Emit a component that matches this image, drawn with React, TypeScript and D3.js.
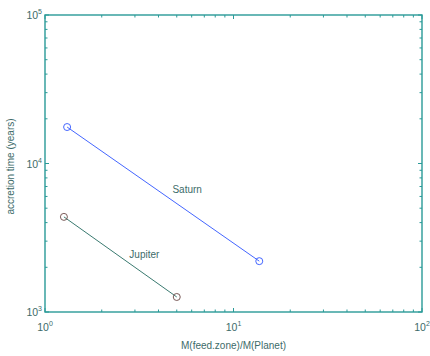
import React from "react";
import * as d3 from "d3";

const saturnX = [1.31, 13.7];
const saturnY = [17600, 2200];
const jupiterX = [1.26, 5.0];
const jupiterY = [4370, 1262];
const xDecades = [0, 1, 2];
const yDecades = [3, 4, 5];
const seriesNames = ["Saturn", "Jupiter"];

const W = 430, H = 356;
const L = 45, R = 422, T = 15, B = 312;
const axisColor = "#2a9a98";
const textColor = "#3d6b69";
const font = "Liberation Sans, Arial, sans-serif";

export default function App() {
  const x = d3.scaleLog().domain([1, 100]).range([L, R]);
  const y = d3.scaleLog().domain([1000, 100000]).range([B, T]);
  const line = d3.line<[number, number]>().x(d => x(d[0])).y(d => y(d[1]));
  const sat: [number, number][] = saturnX.map((v, i) => [v, saturnY[i]]);
  const jup: [number, number][] = jupiterX.map((v, i) => [v, jupiterY[i]]);

  const xMinor: number[] = [];
  for (let d = 0; d < 2; d++) for (let k = 2; k <= 9; k++) xMinor.push(k * Math.pow(10, d));
  const yMinor: number[] = [];
  for (let d = 3; d < 5; d++) for (let k = 2; k <= 9; k++) yMinor.push(k * Math.pow(10, d));

  const tk = 4, tkMinor = 2.5;
  return (
    <svg width={W} height={H} style={{ position: "absolute", left: 0, top: 0 }}>
      <rect width={W} height={H} fill="white" />
      <rect x={L} y={T} width={R - L} height={B - T} fill="none" stroke={axisColor} strokeWidth={1.4} />
      {xMinor.map((v, i) => (
        <g key={"xm" + i} stroke={axisColor} strokeWidth={1}>
          <line x1={x(v)} x2={x(v)} y1={B} y2={B - tkMinor} />
          <line x1={x(v)} x2={x(v)} y1={T} y2={T + tkMinor} />
        </g>
      ))}
      {yMinor.map((v, i) => (
        <g key={"ym" + i} stroke={axisColor} strokeWidth={1}>
          <line x1={L} x2={L + tkMinor} y1={y(v)} y2={y(v)} />
          <line x1={R} x2={R - tkMinor} y1={y(v)} y2={y(v)} />
        </g>
      ))}
      {xDecades.map(d => (
        <g key={"xd" + d}>
          <line x1={x(Math.pow(10, d))} x2={x(Math.pow(10, d))} y1={B} y2={B - tk} stroke={axisColor} />
          <line x1={x(Math.pow(10, d))} x2={x(Math.pow(10, d))} y1={T} y2={T + tk} stroke={axisColor} />
          <text x={x(Math.pow(10, d))} y={B + 19} fontFamily={font} fontSize={10.5} fill={textColor} textAnchor="middle">
            10<tspan dy={-5} fontSize={7}>{d}</tspan>
          </text>
        </g>
      ))}
      {yDecades.map(d => (
        <g key={"yd" + d}>
          <line x1={L} x2={L + tk} y1={y(Math.pow(10, d))} y2={y(Math.pow(10, d))} stroke={axisColor} />
          <line x1={R} x2={R - tk} y1={y(Math.pow(10, d))} y2={y(Math.pow(10, d))} stroke={axisColor} />
          <text x={L - 3} y={y(Math.pow(10, d)) + 4} fontFamily={font} fontSize={10.5} fill={textColor} textAnchor="end">
            10<tspan dy={-5} fontSize={7}>{d}</tspan>
          </text>
        </g>
      ))}
      <path d={line(sat) || ""} fill="none" stroke="#4466ff" strokeWidth={1} />
      <path d={line(jup) || ""} fill="none" stroke="#3a7a70" strokeWidth={1} />
      {sat.map((p, i) => (
        <circle key={"s" + i} cx={x(p[0])} cy={y(p[1])} r={3.5} fill="none" stroke="#4466ff" strokeWidth={1} />
      ))}
      {jup.map((p, i) => (
        <circle key={"j" + i} cx={x(p[0])} cy={y(p[1])} r={3.5} fill="none" stroke="#7a5a58" strokeWidth={1} />
      ))}
      <text x={x(Math.sqrt(saturnX[0] * saturnX[1])) + 24} y={y(Math.sqrt(saturnY[0] * saturnY[1])) - 1} fontFamily={font} fontSize={10} fill={textColor} textAnchor="middle">{seriesNames[0]}</text>
      <text x={x(Math.sqrt(jupiterX[0] * jupiterX[1])) + 24} y={y(Math.sqrt(jupiterY[0] * jupiterY[1])) + 1} fontFamily={font} fontSize={10} fill={textColor} textAnchor="middle">{seriesNames[1]}</text>
      <text x={(L + R) / 2} y={349} fontFamily={font} fontSize={10} fill={textColor} textAnchor="middle">M(feed.zone)/M(Planet)</text>
      <text transform={`translate(14,${(T + B) / 2 + 3}) rotate(-90)`} fontFamily={font} fontSize={10} fill={textColor} textAnchor="middle">accretion time (years)</text>
    </svg>
  );
}
